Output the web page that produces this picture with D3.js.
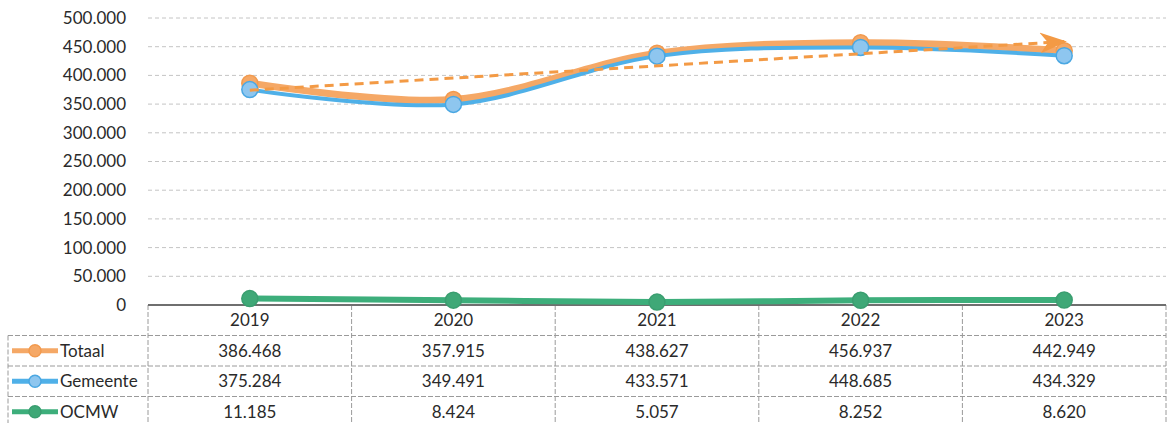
<!DOCTYPE html>
<html><head><meta charset="utf-8">
<script src="https://cdn.jsdelivr.net/npm/d3@7"></script>
<style>
html,body{margin:0;padding:0;background:#fff;}
svg{display:block;font-family:Lato,"Open Sans",sans-serif;}
</style></head>
<body>
<svg id="chart" width="1167" height="423"></svg>
<script>
const years = ["2019","2020","2021","2022","2023"];
const totaal = [386468, 357915, 438627, 456937, 442949];
const gemeente = [375284, 349491, 433571, 448685, 434329];
const ocmw = [11185, 8424, 5057, 8252, 8620];
const seriesNames = ["Totaal","Gemeente","OCMW"];
const yTicks = [0,50000,100000,150000,200000,250000,300000,350000,400000,450000,500000];

const colors = {
  Totaal: {line:"#F5A866", fill:"#F5A866", stroke:"#F29A4E", width:7},
  Gemeente: {line:"#4FB0E8", fill:"#8EC6EF", stroke:"#4AA7E2", width:4},
  OCMW: {line:"#3DAE7B", fill:"#3FA877", stroke:"#3A9E70", width:6}
};
const seriesData = {Totaal: totaal, Gemeente: gemeente, OCMW: ocmw};

const locale = d3.formatLocale({decimal:",", thousands:".", grouping:[3], currency:["",""]});
const fmt = locale.format(",");

const svg = d3.select("#chart");
const pLeft = 148, pRight = 1166, pTop = 18, pBase = 305;
const x = d3.scaleBand().domain(years).range([pLeft, pRight]);
const y = d3.scaleLinear().domain([0, 500000]).range([pBase, pTop]);
const cx = d => x(d) + x.bandwidth()/2;

// gridlines
svg.append("g").selectAll("line").data(yTicks.filter(t => t > 0)).join("line")
  .attr("x1", pLeft).attr("x2", pRight)
  .attr("y1", d => y(d)).attr("y2", d => y(d))
  .attr("stroke", "#c4c4c4").attr("stroke-width", 1)
  .attr("stroke-dasharray", "4,3");

// y axis
const yAxis = d3.axisLeft(y).tickValues(yTicks).tickFormat(fmt).tickSize(0).tickPadding(22);
const ga = svg.append("g").attr("transform", `translate(${pLeft},0)`).call(yAxis);
ga.select(".domain").remove();
ga.selectAll("text").attr("font-size", 17).attr("fill", "#2a2a2a").attr("font-family", "Lato,sans-serif");

// table
const rowH = 30.5;
const tableTop = pBase;
const tg = svg.append("g").attr("stroke", "#9a9a9a").attr("stroke-width", 1).attr("stroke-dasharray", "5,2");
const vx = [pLeft].concat(years.map(d => x(d) + x.bandwidth()));
tg.selectAll("line.v").data(vx).join("line").attr("class","v")
  .attr("x1", d => d).attr("x2", d => d).attr("y1", tableTop).attr("y2", 423);
tg.append("line").attr("x1", 8).attr("x2", 8).attr("y1", tableTop + rowH).attr("y2", 423);
tg.selectAll("line.h").data([1,2,3]).join("line").attr("class","h")
  .attr("x1", 8).attr("x2", pRight).attr("y1", d => tableTop + d*rowH).attr("y2", d => tableTop + d*rowH);

// x axis baseline
svg.append("line").attr("x1", pLeft).attr("x2", pRight).attr("y1", pBase).attr("y2", pBase)
  .attr("stroke", "#6f6f6f").attr("stroke-width", 2);

// year labels
svg.append("g").selectAll("text").data(years).join("text")
  .attr("x", d => cx(d)).attr("y", tableTop + rowH/2).attr("dy", "0.35em")
  .attr("text-anchor", "middle").attr("font-size", 17).attr("fill", "#2a2a2a").text(d => d);

// table values and legend
seriesNames.forEach((name, i) => {
  const ry = tableTop + (i+1)*rowH + rowH/2;
  const c = colors[name];
  svg.append("g").selectAll("text").data(seriesData[name]).join("text")
    .attr("x", (d, j) => cx(years[j])).attr("y", ry).attr("dy", "0.35em")
    .attr("text-anchor", "middle").attr("font-size", 17).attr("fill", "#2a2a2a")
    .text(d => fmt(d));
  svg.append("line").attr("x1", 12).attr("x2", 58).attr("y1", ry).attr("y2", ry)
    .attr("stroke", c.line).attr("stroke-width", 5);
  svg.append("circle").attr("cx", 35).attr("cy", ry).attr("r", 6)
    .attr("fill", c.fill).attr("stroke", c.stroke).attr("stroke-width", 1.5);
  svg.append("text").attr("x", 60).attr("y", ry).attr("dy", "0.35em")
    .attr("font-size", 17).attr("fill", "#2a2a2a").text(name);
});

// lines
const line = d3.line().x((d, j) => cx(years[j])).y(d => y(d)).curve(d3.curveCatmullRom.alpha(0.5));
const plot = svg.append("g");
seriesNames.forEach(name => {
  const c = colors[name];
  plot.append("path").datum(seriesData[name]).attr("d", line)
    .attr("fill", "none").attr("stroke", c.line).attr("stroke-width", c.width)
    .attr("stroke-linecap", "round");
  plot.append("g").selectAll("circle").data(seriesData[name]).join("circle")
    .attr("cx", (d, j) => cx(years[j])).attr("cy", d => y(d)).attr("r", 8)
    .attr("fill", c.fill).attr("stroke", c.stroke).attr("stroke-width", 1.5);
});

// linear trendline for Totaal (least squares)
const n = totaal.length;
const xs = d3.range(n);
const mx = d3.mean(xs), my = d3.mean(totaal);
const slope = d3.sum(xs, i => (i - mx) * (totaal[i] - my)) / d3.sum(xs, i => (i - mx) ** 2);
const icpt = my - slope * mx;
const trend = [icpt, icpt + slope * (n - 1)];
svg.append("defs").append("marker").attr("id", "arrow")
  .attr("viewBox", "0 0 10 10").attr("refX", 9).attr("refY", 5)
  .attr("markerWidth", 9).attr("markerHeight", 7).attr("orient", "auto")
  .attr("preserveAspectRatio", "none")
  .append("path").attr("d", "M0,0 L10,5 L0,10 L3,5 Z").attr("fill", "#F39A45");
svg.append("line")
  .attr("x1", cx(years[0])).attr("y1", y(trend[0]))
  .attr("x2", cx(years[n-1])).attr("y2", y(trend[1]))
  .attr("stroke", "#F39A45").attr("stroke-width", 3)
  .attr("stroke-dasharray", "9,6").attr("marker-end", "url(#arrow)");
</script>
</body></html>
